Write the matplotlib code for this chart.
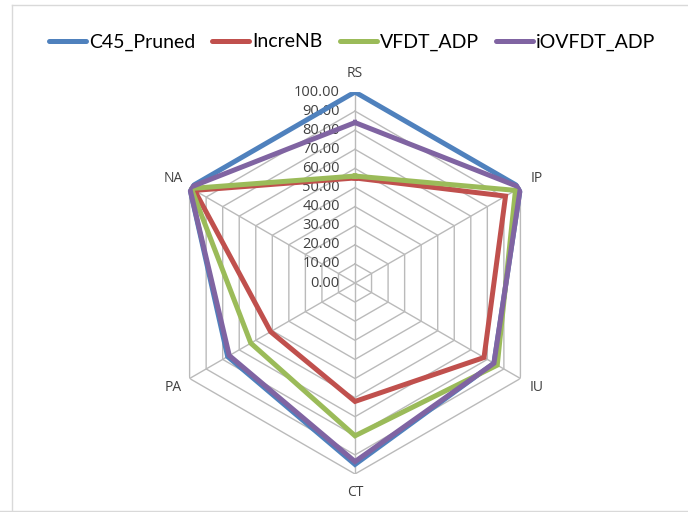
import numpy as np
import matplotlib
matplotlib.use("Agg")
import matplotlib.pyplot as plt
from matplotlib.lines import Line2D
from matplotlib.transforms import offset_copy

plt.rcParams['font.family'] = ['Open Sans', 'DejaVu Sans']

# データ
categories = ["RS", "IP", "IU", "CT", "PA", "NA"]
c45_pruned = [100, 100, 84, 95, 77, 100]
increnb = [55, 91, 78, 62, 51, 97]
vfdt_adp = [56, 97, 86, 80, 63, 99]
iovfdt_adp = [84, 100, 84, 93.5, 76, 100]
ring_levels = [0, 10, 20, 30, 40, 50, 60, 70, 80, 90, 100]

series = [
    ("C45_Pruned", c45_pruned, "#4F81BD"),
    ("IncreNB", increnb, "#C0504D"),
    ("VFDT_ADP", vfdt_adp, "#9BBB59"),
    ("iOVFDT_ADP", iovfdt_adp, "#8064A2"),
]

angles = np.arange(len(categories)) * 2 * np.pi / len(categories)
angles_closed = np.append(angles, angles[0])

fig = plt.figure(figsize=(6.88, 5.12), dpi=100)
ax = fig.add_axes([0.2384, 0.0742, 0.5552, 0.7461], projection="polar")
ax.set_theta_zero_location("N")
ax.set_theta_direction(-1)
ax.set_ylim(0, 100)
ax.grid(False)
ax.spines["polar"].set_visible(False)
ax.set_yticks([])
ax.set_xticks(angles)
ax.set_xticklabels(categories, fontsize=10, color="#404040")
ax.tick_params(axis="x", pad=3)
ax.patch.set_alpha(0)

# 六角形のグリッド
grid_col = "#BABABA"
for r in ring_levels[1:]:
    ax.plot(angles_closed, [r] * len(angles_closed), color=grid_col, lw=1, zorder=1)
for a in angles:
    ax.plot([a, a], [0, 100], color=grid_col, lw=1, zorder=1)

# 目盛ラベル
lab_tr = offset_copy(ax.transData, fig=fig, x=-11, y=0, units="points")
for r in ring_levels:
    ax.text(0, r, "%.2f" % r, transform=lab_tr, ha="right", va="center",
            fontsize=10.5, color="#404040", zorder=2)

# データ系列
for name, vals, col in series:
    v = np.append(vals, vals[0])
    ax.plot(angles_closed, v, color=col, lw=3.6, solid_joinstyle="miter", zorder=3, label=name)

handles = [Line2D([], [], color=col, lw=3.6, solid_capstyle="round") for _, _, col in series]
fig.legend(handles, [s[0] for s in series], loc="center", bbox_to_anchor=(0.512, 0.918),
           ncol=4, frameon=False, prop={"family": "Lato", "size": 14},
           handlelength=1.9, handletextpad=0.15, columnspacing=0.9)

# 外枠
fr = "#D9D9D9"
fig.add_artist(Line2D([12 / 688, 12 / 688], [1 / 512, 507 / 512], color=fr, lw=1, transform=fig.transFigure))
fig.add_artist(Line2D([12 / 688, 1], [507 / 512, 507 / 512], color=fr, lw=1, transform=fig.transFigure))
fig.add_artist(Line2D([0, 1], [1 / 512, 1 / 512], color=fr, lw=1, transform=fig.transFigure))

fig.savefig("out.png", dpi=100)
